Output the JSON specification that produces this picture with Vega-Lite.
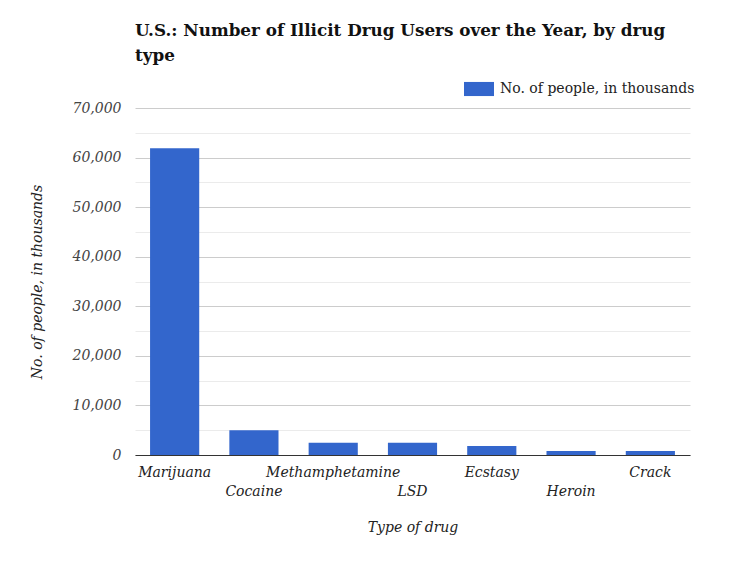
{
  "$schema": "https://vega.github.io/schema/vega-lite/v6.json",
  "width": 555,
  "height": 347,
  "autosize": {"type": "none"},
  "padding": {"left": 135, "top": 108, "right": 60, "bottom": 108},
  "background": "white",
  "title": {
    "text": ["U.S.: Number of Illicit Drug Users over the Year, by drug", "type"],
    "anchor": "start",
    "frame": "group",
    "font": "DejaVu Serif",
    "fontSize": 16.8,
    "fontWeight": "bold",
    "color": "#111111",
    "lineHeight": 25,
    "offset": 9
  },
  "data": {
    "values": [
      {"drug": "Marijuana", "people": 61900},
      {"drug": "Cocaine", "people": 5000},
      {"drug": "Methamphetamine", "people": 2450},
      {"drug": "LSD", "people": 2450},
      {"drug": "Ecstasy", "people": 1820},
      {"drug": "Heroin", "people": 800},
      {"drug": "Crack", "people": 800}
    ]
  },
  "mark": {"type": "bar", "color": "#3366cc"},
  "encoding": {
    "x": {
      "field": "drug",
      "type": "nominal",
      "sort": null,
      "scale": {"paddingInner": 0.38, "paddingOuter": 0.19},
      "axis": {
        "title": "Type of drug",
        "titleFont": "DejaVu Serif",
        "titleFontSize": 14,
        "titleFontStyle": "italic",
        "titleFontWeight": "normal",
        "titleColor": "#222222",
        "titlePadding": 22,
        "labelAngle": 0,
        "labelFont": "DejaVu Serif",
        "labelFontSize": 14,
        "labelFontStyle": "italic",
        "labelColor": "#222222",
        "labelOverlap": false,
        "labelPadding": {"condition": {"test": "indexof(['Cocaine','LSD','Heroin'], datum.label) >= 0", "value": 29}, "value": 10},
        "ticks": false,
        "domainColor": "#333333",
        "domainWidth": 1
      }
    },
    "y": {
      "field": "people",
      "type": "quantitative",
      "scale": {"domain": [0, 70000], "nice": false},
      "axis": {
        "title": "No. of people, in thousands",
        "titleFont": "DejaVu Serif",
        "titleFontSize": 14,
        "titleFontStyle": "italic",
        "titleFontWeight": "normal",
        "titleColor": "#222222",
        "titlePadding": 28,
        "values": [0, 5000, 10000, 15000, 20000, 25000, 30000, 35000, 40000, 45000, 50000, 55000, 60000, 65000, 70000],
        "labelExpr": "datum.value % 10000 === 0 ? format(datum.value, ',') : ''",
        "labelFont": "DejaVu Serif",
        "labelFontSize": 14,
        "labelFontStyle": "italic",
        "labelColor": "#444444",
        "labelPadding": 14,
        "ticks": false,
        "domain": false,
        "gridColor": {"condition": {"test": "datum.value % 10000 === 0", "value": "#cccccc"}, "value": "#ebebeb"},
        "gridWidth": 1
      }
    },
    "fill": {
      "datum": "No. of people, in thousands",
      "type": "nominal",
      "scale": {"range": ["#3366cc"]},
      "legend": {
        "title": null,
        "orient": "none",
        "legendX": 329,
        "legendY": -34,
        "symbolType": "M-1,-0.47H1V0.47H-1Z",
        "symbolSize": 900,
        "symbolStrokeWidth": 0,
        "labelFont": "DejaVu Serif",
        "labelFontSize": 14,
        "labelColor": "#222222",
        "labelOffset": 6,
        "labelLimit": 400
      }
    }
  },
  "config": {"view": {"stroke": null}}
}
